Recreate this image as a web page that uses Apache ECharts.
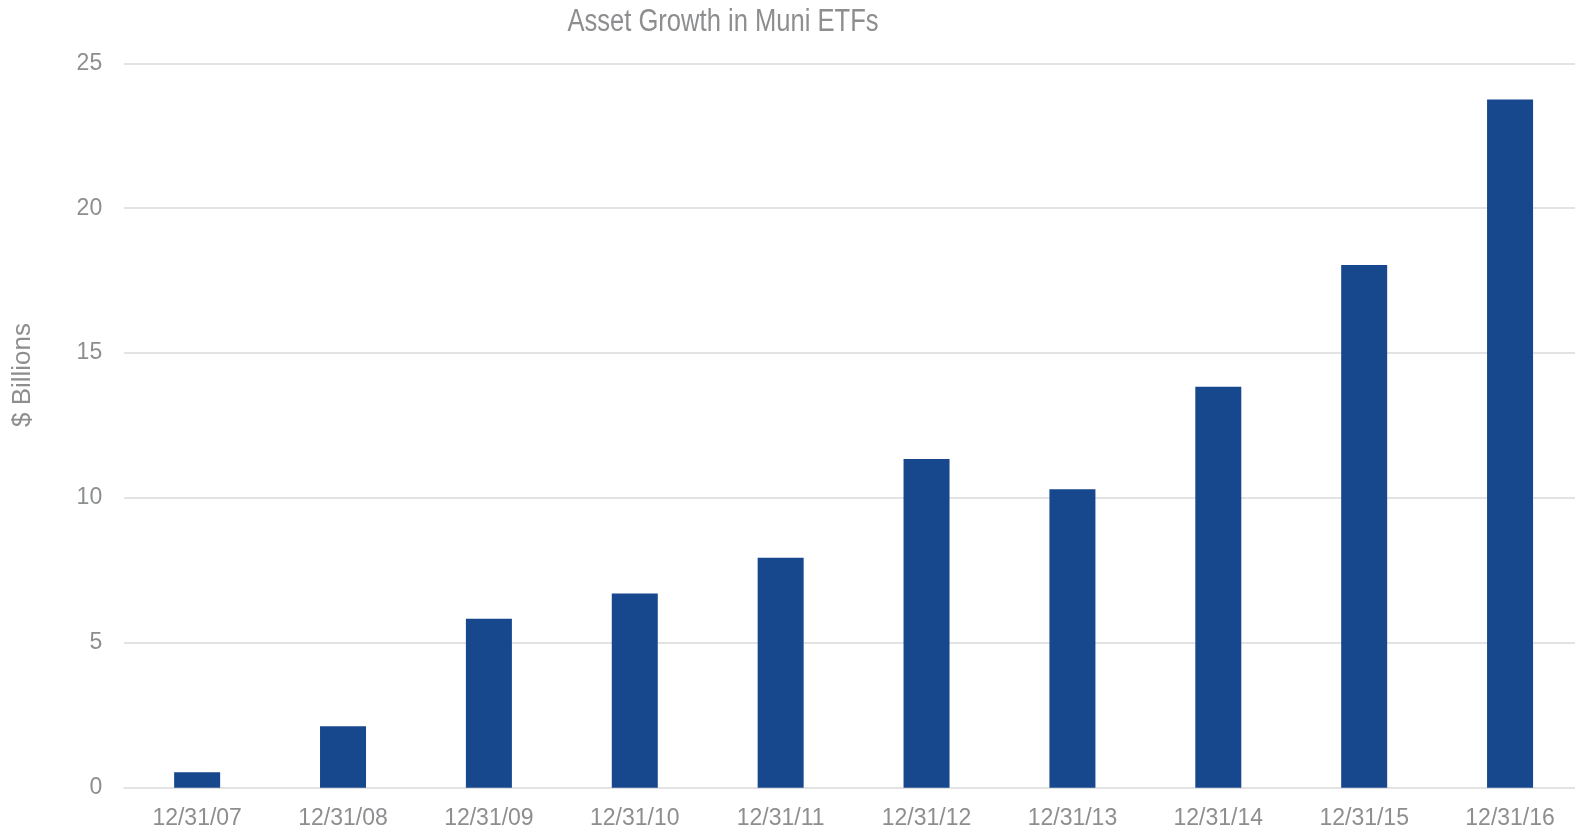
<!DOCTYPE html>
<html><head><meta charset="utf-8">
<script src="https://cdn.jsdelivr.net/npm/echarts@6/dist/echarts.min.js"></script>
<style>html,body{margin:0;padding:0;background:#fff;overflow:hidden}#c{width:1583px;height:830px}</style>
</head><body><div id="c"></div>
<script>
const categories = ['12/31/07','12/31/08','12/31/09','12/31/10','12/31/11','12/31/12','12/31/13','12/31/14','12/31/15','12/31/16'];
const values = [0.53, 2.12, 5.83, 6.70, 7.94, 11.34, 10.30, 13.84, 18.04, 23.75];
const yTicks = [0, 5, 10, 15, 20, 25];
const titleText = 'Asset Growth in Muni ETFs';
const yName = '$ Billions';

const chart = echarts.init(document.getElementById('c'));
const gray = '#8d8e90';
chart.setOption({
  animation: false,
  graphic: [{
    type: 'text', x: 723, y: 22, scaleX: 0.825,
    style: {text: titleText, fill: gray, fontFamily: 'Liberation Sans', fontSize: 31, textAlign: 'center', textVerticalAlign: 'middle'}
  }, {
    type: 'text', x: 23, y: 375, rotation: Math.PI / 2,
    style: {text: yName, fill: gray, fontFamily: 'Liberation Sans', fontSize: 26, textAlign: 'center', textVerticalAlign: 'middle'}
  }],
  grid: {left: 124.2, right: 0, top: 63.3, bottom: 42.3, containLabel: false},
  xAxis: {
    type: 'category', data: categories,
    axisLine: {lineStyle: {color: '#e3e3e3', width: 2}},
    axisTick: {show: false},
    axisLabel: {color: gray, fontFamily: 'Liberation Sans', fontSize: 23, margin: 19}
  },
  yAxis: {
    type: 'value', min: yTicks[0], max: yTicks[yTicks.length - 1], interval: 5,
    axisLine: {show: false}, axisTick: {show: false},
    splitLine: {lineStyle: {color: '#e3e3e3', width: 2}},
    axisLabel: {color: gray, fontFamily: 'Liberation Sans', fontSize: 23, margin: 22}
  },
  series: [{
    type: 'bar', data: values, barWidth: 46,
    itemStyle: {color: '#17478c'}
  }]
});
</script></body></html>
